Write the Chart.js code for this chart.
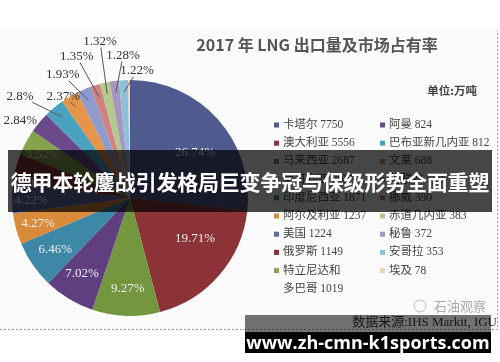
<!DOCTYPE html>
<html>
<head>
<meta charset="utf-8">
<script src="https://cdn.jsdelivr.net/npm/chart.js@4.4.1/dist/chart.umd.min.js"></script>
<style>
  body { margin: 0; background: #fff; }
  #wrap { position: relative; width: 500px; height: 362px; overflow: hidden; }
  .banner { position: absolute; left: 8px; top: 150px; width: 484px; height: 62px;
    background: rgba(0,0,0,0.72); color: #fff; font: bold 21px 'Noto Sans CJK SC', sans-serif;
    line-height: 62px; text-align: center; white-space: nowrap; letter-spacing: -0.2px; }
  .srcband { position: absolute; left: 245px; top: 315px; width: 246px; height: 17px; background: rgba(0,0,0,0.55); }
  .url { position: absolute; left: 245px; top: 332px; width: 246px; height: 21px; background: #000;
    color: #fff; font: bold 18px 'Open Sans', sans-serif; line-height: 21px; text-align: center; white-space: nowrap; }
</style>
</head>
<body>
<div id="wrap">
  <canvas id="lngChart" width="500" height="362"></canvas>
  <div class="banner">德甲本轮鏖战引发格局巨变争冠与保级形势全面重塑</div>
  <div class="srcband"></div>
  <div class="url">www.zh-cmn-k1sports.com</div>
</div>
<script>
// 2017 LNG exports, 万吨
const countries = ['卡塔尔', '澳大利亚', '马来西亚', '尼日利亚', '印度尼西亚', '阿尔及利亚', '美国', '俄罗斯',
    ['特立尼达和', '多巴哥'], '阿曼', '巴布亚新几内亚', '文莱', '阿联酋', '挪威', '赤道几内亚', '秘鲁', '安哥拉', '埃及'];
const exports2017 = [7750, 5556, 2687, 2035, 1871, 1237, 1224, 1149, 1019, 824, 812, 688, 559, 390, 383, 372, 353, 78];
const shareLabels = ['26.74%', '19.71%', '9.27%', '7.02%', '6.46%', '4.27%', '4.22%', '3.96%', '3.52%',
    '2.84%', '2.8%', '2.37%', '1.93%', '1.35%', '1.32%', '1.28%', '1.22%', ''];
const sliceColors = ['#4f5a8e', '#8c3338', '#74963f', '#5f3f80', '#3d88a6', '#d98a3a', '#5d6ea6', '#87303a',
    '#86a24c', '#6b4a8c', '#4aa2c0', '#e5944a', '#8d9bcf', '#d08282', '#b3ca8c', '#a796c2', '#8cc1d8', '#efd6b2'];

// [angle shift in degrees, distance from centre as share of radius]
const labelPlacement = [[7.2, 0.67], [-8.6, 0.65], [-0.6, 0.77], [1, 0.76], [-0.2, 0.77], [-0.6, 0.81], [-1.8, 0.84],
    [-6.5, 0.82], [-1.7, 0.83], [-4.4, 1.14], [-7.1, 1.27], [-2.5, 1.03], [-5.6, 1.19], [-3.5, 1.28],
    [1.5, 1.35], [4.9, 1.21], [6.3, 1.08], [0, 0]];

const decorations = {
    id: 'decorations',
    beforeDraw(chart) {
        const c = chart.ctx;
        c.save();
        c.fillStyle = '#fbfbfb';
        c.fillRect(0, 30, 497, 299);
        c.strokeStyle = '#9a9a9a';
        c.setLineDash([2, 2]);
        c.beginPath();
        c.moveTo(0, 329.5); c.lineTo(497.5, 329.5); c.lineTo(497.5, 30);
        c.stroke();
        c.restore();
    },
    afterDraw(chart) {
        const c = chart.ctx;
        const arcs = chart.getDatasetMeta(0).data;
        c.save();
        c.textAlign = 'center';
        c.textBaseline = 'middle';

        // title
        c.fillStyle = '#555';
        c.font = 'bold 16px "Noto Sans CJK SC", sans-serif';
        c.fillText('2017 年 LNG 出口量及市场占有率', 317, 45);
        c.fillStyle = '#444';
        c.font = 'bold 11.5px "Noto Sans CJK SC", sans-serif';
        c.textAlign = 'right';
        c.fillText('单位:万吨', 477, 91);

        // percentage labels
        c.textAlign = 'center';
        c.font = '13px "Liberation Serif", serif';
        arcs.forEach((arc, i) => {
            const text = shareLabels[i];
            if (!text) return;
            const mid = (arc.startAngle + arc.endAngle) / 2;
            const [shift, f] = labelPlacement[i];
            const a = mid + shift * Math.PI / 180;
            const lx = arc.x + Math.cos(a) * arc.outerRadius * f;
            const ly = arc.y + Math.sin(a) * arc.outerRadius * f;
            if (f > 1) {
                const tx = arc.x + Math.cos(mid) * arc.outerRadius * 0.9;
                const ty = arc.y + Math.sin(mid) * arc.outerRadius * 0.9;
                const w = c.measureText(text).width / 2 + 1, h = 6;
                const dx = tx - lx, dy = ty - ly;
                const t = Math.min(Math.abs(w / dx || 1e9), Math.abs(h / dy || 1e9));
                c.strokeStyle = '#555';
                c.lineWidth = 1;
                c.beginPath();
                c.moveTo(lx + dx * t, ly + dy * t);
                c.lineTo(tx, ty);
                c.stroke();
                c.fillStyle = '#333';
            } else {
                c.fillStyle = '#ececec';
            }
            c.fillText(text, lx, ly);
        });

        // legend, two columns
        c.textAlign = 'left';
        c.font = '11.5px "Liberation Serif", "Noto Sans CJK SC", serif';
        const perCol = 9;
        let rowY = [125, 125];
        countries.forEach((name, i) => {
            const col = Math.floor(i / perCol);
            const x = col === 0 ? 274 : 380;
            const y = rowY[col];
            c.fillStyle = sliceColors[i];
            c.fillRect(x, y - 2.5, 5, 5);
            c.fillStyle = '#444';
            const lines = Array.isArray(name) ? name.slice() : [name];
            lines[lines.length - 1] += ' ' + exports2017[i];
            lines.forEach((ln, k) => c.fillText(ln, x + 9, y + k * 18.2));
            rowY[col] += 18.2 * lines.length;
        });

        // source and watermark
        c.fillStyle = '#aaa';
        c.font = '13px "Noto Sans CJK SC", sans-serif';
        c.fillText('石油观察', 434, 306);
        c.beginPath();
        c.strokeStyle = '#bbb';
        c.arc(420, 306, 6, 0, Math.PI * 2);
        c.stroke();
        c.fillStyle = '#333';
        c.font = '13px "Liberation Serif", "Noto Sans CJK SC", serif';
        c.textAlign = 'right';
        c.fillText('数据来源:IHS Markit, IGU', 497, 323);
        c.restore();
    }
};

new Chart(document.getElementById('lngChart').getContext('2d'), {
    type: 'pie',
    data: {
        labels: countries,
        datasets: [{
            data: exports2017,
            backgroundColor: sliceColors,
            borderWidth: 0
        }]
    },
    options: {
        responsive: false,
        animation: false,
        layout: { padding: { left: 12, top: 80, right: 252, bottom: 46 } },
        plugins: { legend: { display: false }, tooltip: { enabled: false } }
    },
    plugins: [decorations]
});
</script>
</body>
</html>
